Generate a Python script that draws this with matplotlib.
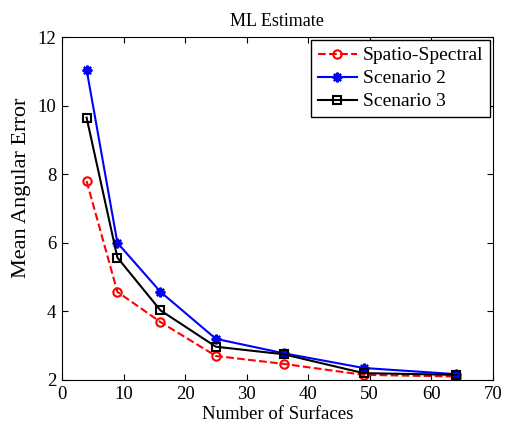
import matplotlib
matplotlib.use("Agg")
import matplotlib.pyplot as plt

x = [4, 9, 16, 25, 36, 49, 64]
spatio = [7.80, 4.57, 3.69, 2.70, 2.47, 2.15, 2.10]
scen2 = [11.05, 6.00, 4.57, 3.20, 2.78, 2.35, 2.17]
scen3 = [9.65, 5.57, 4.03, 2.97, 2.75, 2.20, 2.15]

plt.rcParams['font.family'] = ['Liberation Serif', 'DejaVu Serif']
plt.rcParams['font.size'] = 13.5

fig = plt.figure(figsize=(5.06, 4.24), dpi=100)
ax = fig.add_axes([0.1225, 0.1038, 0.8515, 0.8089])

ax.plot(x, spatio, 'r--o', mfc='none', ms=6, mew=1.5, lw=1.5, label='Spatio-Spectral')
ax.plot(x, scen2, 'b-', marker=(8, 2, 0), ms=7, mew=1.6, lw=1.5, label='Scenario 2')
ax.plot(x, scen3, 'k-s', mfc='none', ms=6, mew=1.5, lw=1.5, label='Scenario 3')

ax.set_xlim(0, 70)
ax.set_ylim(2, 12)
ax.set_xticks(range(0, 71, 10))
ax.set_yticks(range(2, 13, 2))
ax.tick_params(direction='in', top=True, right=True, length=4, labelsize=13.5, pad=4)
ax.set_xlabel('Number of Surfaces', fontsize=13.5, labelpad=2.5)
ax.set_ylabel('Mean Angular Error', fontsize=16)
ax.yaxis.set_label_coords(-0.073, 0.56)
ax.set_title('ML Estimate', fontsize=13, pad=8)
leg = ax.legend(loc='upper right', fancybox=False, edgecolor='black', framealpha=1,
                borderaxespad=0.15, handlelength=2.0, handletextpad=0.3, fontsize=14,
                borderpad=0.35, labelspacing=0.28)
leg.get_frame().set_linewidth(1.0)

fig.savefig('out.png', dpi=100)
